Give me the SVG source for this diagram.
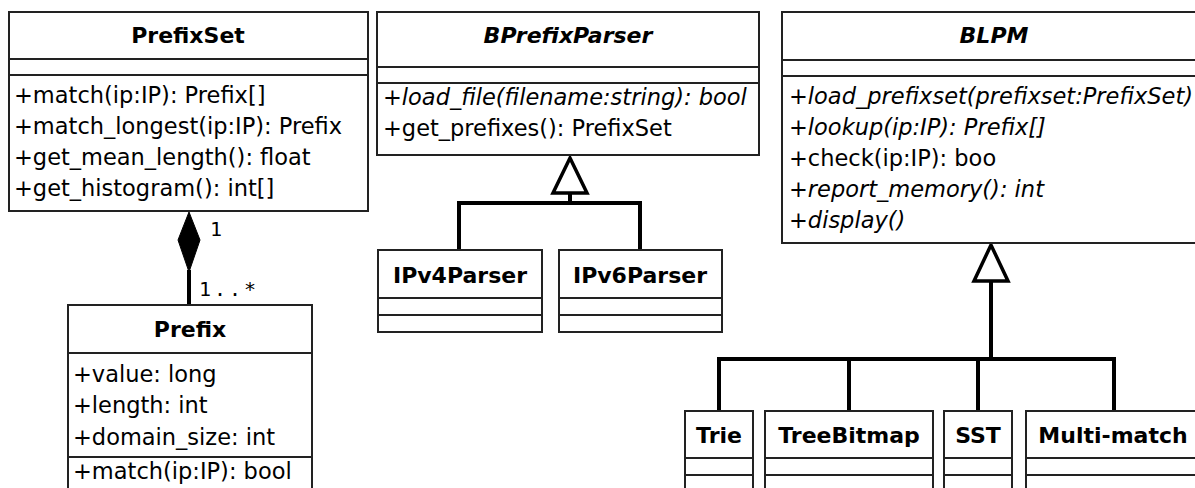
<svg xmlns="http://www.w3.org/2000/svg" width="1195" height="488" viewBox="0 0 1195 488">
<style>
.box{fill:#fff;stroke:#222;stroke-width:2}
.sep{stroke:#222;stroke-width:2}
.t{font-family:"DejaVu Sans",Verdana,sans-serif;font-size:22.5px;fill:#000}
.i{font-style:italic}
.h{font-family:"DejaVu Sans",Verdana,sans-serif;font-size:22px;font-weight:bold;fill:#000;text-anchor:middle}
.hi{font-style:italic}
.c{fill:none;stroke:#000;stroke-width:4}
.tri{fill:#fff;stroke:#000;stroke-width:3.5;stroke-linejoin:miter}
.m{font-family:"DejaVu Sans Mono","Liberation Mono",monospace;font-size:20px;fill:#000;letter-spacing:3px}
</style>
<g id="connectors">
  <path class="c" d="M189,270 V305"/>
  <path d="M189,212 L200,240 L189,272 L178,240 Z" fill="#000" stroke="#000" stroke-width="1"/>
  <text class="m" x="210" y="236">1</text>
  <text class="m" x="199" y="296">1..*</text>
  <path class="c" d="M570,193 V203 M459,250 V203 H640 V250"/>
  <path class="tri" d="M570,158 L553,193 L587,193 Z"/>
  <path class="c" d="M991,281 V359 M719,411 V359 H1114 V411 M849,359 V411 M978,359 V411"/>
  <path class="tri" d="M991,245 L974,281 L1008,281 Z"/>
</g>
<g id="PrefixSet">
  <rect class="box" x="9" y="12" width="359" height="199"/>
  <line class="sep" x1="9" y1="59" x2="368" y2="59"/>
  <line class="sep" x1="9" y1="75" x2="368" y2="75"/>
  <text class="h" x="188" y="43">PrefixSet</text>
  <text class="t" x="14" y="103">+match(ip:IP): Prefix[]</text>
  <text class="t" x="14" y="134">+match_longest(ip:IP): Prefix</text>
  <text class="t" x="14" y="165">+get_mean_length(): float</text>
  <text class="t" x="14" y="196">+get_histogram(): int[]</text>
</g>
<g id="BPrefixParser">
  <rect class="box" x="377" y="12" width="382" height="143"/>
  <line class="sep" x1="377" y1="67" x2="759" y2="67"/>
  <line class="sep" x1="377" y1="83" x2="759" y2="83"/>
  <text class="h hi" x="568" y="43">BPrefixParser</text>
  <text class="t i" x="383" y="105">+load_file(filename:string): bool</text>
  <text class="t" x="383" y="136">+get_prefixes(): PrefixSet</text>
</g>
<g id="BLPM">
  <rect class="box" x="782" y="12" width="424" height="231"/>
  <line class="sep" x1="782" y1="60" x2="1206" y2="60"/>
  <line class="sep" x1="782" y1="76" x2="1206" y2="76"/>
  <text class="h hi" x="994" y="43">BLPM</text>
  <text class="t i" x="789" y="104">+load_prefixset(prefixset:PrefixSet)</text>
  <text class="t i" x="789" y="135">+lookup(ip:IP): Prefix[]</text>
  <text class="t" x="789" y="166">+check(ip:IP): boo</text>
  <text class="t i" x="789" y="197">+report_memory(): int</text>
  <text class="t i" x="789" y="228">+display()</text>
</g>
<g id="Prefix">
  <rect class="box" x="68" y="305" width="244" height="200"/>
  <line class="sep" x1="68" y1="353" x2="312" y2="353"/>
  <line class="sep" x1="68" y1="457" x2="312" y2="457"/>
  <text class="h" x="190" y="337">Prefix</text>
  <text class="t" x="73" y="382">+value: long</text>
  <text class="t" x="73" y="413">+length: int</text>
  <text class="t" x="73" y="445">+domain_size: int</text>
  <text class="t" x="73" y="479">+match(ip:IP): bool</text>
</g>
<g id="IPv4Parser">
  <rect class="box" x="378" y="250" width="164" height="82"/>
  <line class="sep" x1="378" y1="298" x2="542" y2="298"/>
  <line class="sep" x1="378" y1="315" x2="542" y2="315"/>
  <text class="h" x="460" y="283">IPv4Parser</text>
</g>
<g id="IPv6Parser">
  <rect class="box" x="559" y="250" width="163" height="82"/>
  <line class="sep" x1="559" y1="298" x2="722" y2="298"/>
  <line class="sep" x1="559" y1="315" x2="722" y2="315"/>
  <text class="h" x="640" y="283">IPv6Parser</text>
</g>
<g id="Trie">
  <rect class="box" x="685" y="411" width="68" height="90"/>
  <line class="sep" x1="685" y1="458" x2="753" y2="458"/>
  <line class="sep" x1="685" y1="475" x2="753" y2="475"/>
  <text class="h" x="719" y="443">Trie</text>
</g>
<g id="TreeBitmap">
  <rect class="box" x="765" y="411" width="168" height="90"/>
  <line class="sep" x1="765" y1="458" x2="933" y2="458"/>
  <line class="sep" x1="765" y1="475" x2="933" y2="475"/>
  <text class="h" x="849" y="443">TreeBitmap</text>
</g>
<g id="SST">
  <rect class="box" x="944" y="411" width="68" height="90"/>
  <line class="sep" x1="944" y1="458" x2="1012" y2="458"/>
  <line class="sep" x1="944" y1="475" x2="1012" y2="475"/>
  <text class="h" x="978" y="443">SST</text>
</g>
<g id="Multi-match">
  <rect class="box" x="1026" y="411" width="176" height="90"/>
  <line class="sep" x1="1026" y1="458" x2="1202" y2="458"/>
  <line class="sep" x1="1026" y1="475" x2="1202" y2="475"/>
  <text class="h" x="1113" y="443">Multi-match</text>
</g>
</svg>
